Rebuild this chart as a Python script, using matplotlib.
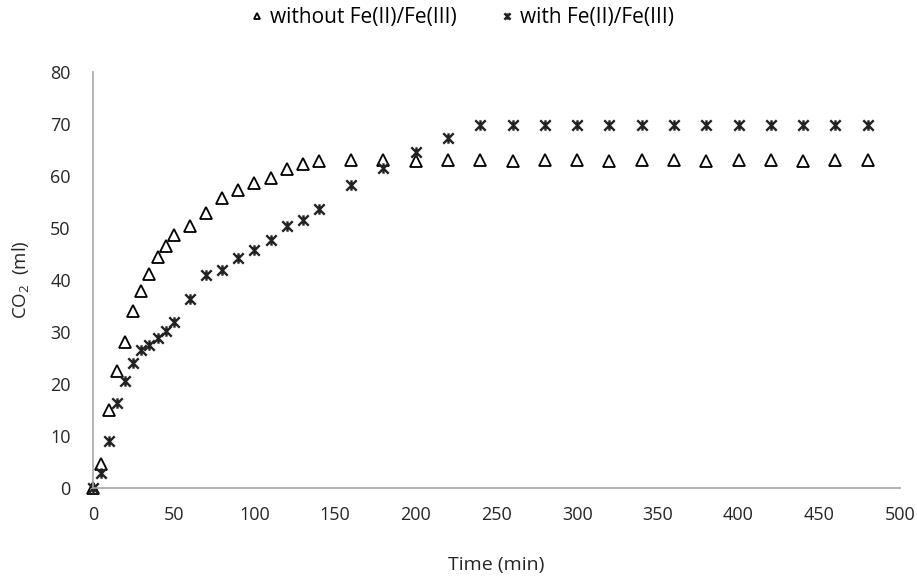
import numpy as np
import matplotlib
matplotlib.use("Agg")
import matplotlib.pyplot as plt
from matplotlib.path import Path

time = [0, 5, 10, 15, 20, 25, 30, 35, 40, 45, 50, 60, 70, 80, 90, 100, 110, 120,
        130, 140, 160, 180, 200, 220, 240, 260, 280, 300, 320, 340, 360, 380,
        400, 420, 440, 460, 480]

without_fe = [0, 4.7, 15.0, 22.6, 28.1, 34.1, 37.9, 41.1, 44.5, 46.5, 48.7, 50.4,
              52.8, 55.7, 57.3, 58.7, 59.7, 61.3, 62.4, 62.9, 63.1, 63.1, 62.8,
              63.1, 63.1, 62.8, 63.1, 63.1, 62.8, 63.0, 63.0, 62.8, 63.0, 63.0,
              62.8, 63.0, 63.0]

with_fe = [0, 2.9, 9.1, 16.3, 20.6, 24.1, 26.5, 27.6, 28.8, 30.2, 31.9, 36.4,
           41.0, 41.9, 44.2, 45.8, 47.6, 50.3, 51.5, 53.6, 58.3, 61.5, 64.7,
           67.4, 69.9, 69.9, 69.9, 69.9, 69.9, 69.9, 69.9, 69.9, 69.9, 69.9,
           69.9, 69.9, 69.9]

labels = ["without Fe(II)/Fe(III)", "with Fe(II)/Fe(III)"]

plt.rcParams['font.family'] = ['Open Sans', 'DejaVu Sans']
plt.rcParams['mathtext.default'] = 'regular'

# excel-style star: an x with a vertical bar through it
star = Path([(-1, -1), (1, 1), (-1, 1), (1, -1), (0, -1), (0, 1)],
            [Path.MOVETO, Path.LINETO, Path.MOVETO, Path.LINETO, Path.MOVETO, Path.LINETO])

fig = plt.figure(figsize=(9.17, 5.77), dpi=100)
ax = fig.add_axes([0.1014, 0.1542, 0.880, 0.721])

ax.plot(time, without_fe, linestyle='none', marker='^', markersize=8,
        markerfacecolor='white', markeredgecolor='black', markeredgewidth=1.3,
        label=labels[0], clip_on=False)
ax.plot(time, with_fe, linestyle='none', marker=star, markersize=7.5,
        markeredgecolor='#222222', markeredgewidth=1.7, color='#222222',
        label=labels[1], clip_on=False)

ax.set_xlim(0, 500)
ax.set_ylim(0, 80)
ax.set_xticks(np.arange(0, 501, 50))
ax.set_yticks(np.arange(0, 81, 10))
ax.tick_params(length=0, labelsize=13, colors='#262626')
ax.tick_params(axis='x', pad=13)
ax.tick_params(axis='y', pad=16)
for s in ['top', 'right']:
    ax.spines[s].set_visible(False)
for s in ['left', 'bottom']:
    ax.spines[s].set_color('#a6a6a6')
    ax.spines[s].set_linewidth(1.2)

ax.set_xlabel("Time (min)", fontsize=14, color='#262626', labelpad=23)
ax.set_ylabel("CO$_2$  (ml)", fontsize=13.5, color='#262626', labelpad=14)

fig.legend(loc='upper center', bbox_to_anchor=(0.502, 1.02), ncol=2, frameon=False,
           fontsize=15, handletextpad=0.15, columnspacing=1.9, markerscale=0.6,
           handlelength=1.0)

fig.savefig("out.png", dpi=100)
